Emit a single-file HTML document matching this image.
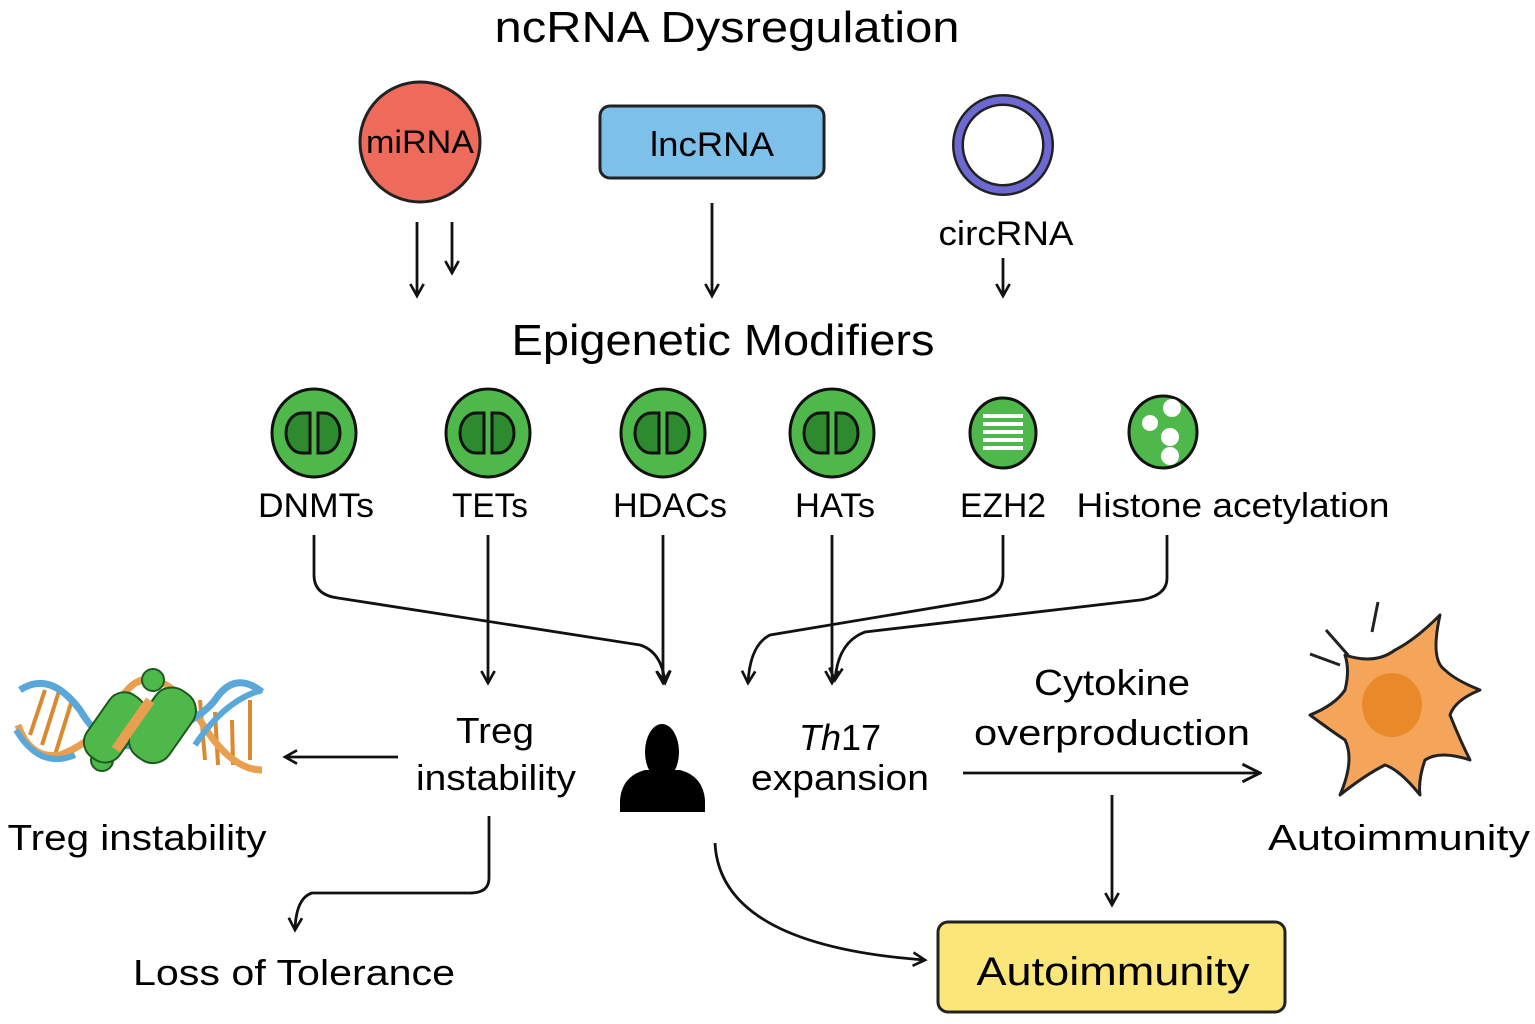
<!DOCTYPE html>
<html><head><meta charset="utf-8"><style>
html,body{margin:0;padding:0;background:#fff;}
svg{display:block;font-family:"Liberation Sans",sans-serif;}
</style></head><body>
<svg width="1535" height="1024" viewBox="0 0 1535 1024" xmlns="http://www.w3.org/2000/svg">
<defs>
<marker id="ah" viewBox="0 0 12 12" refX="10" refY="6" markerWidth="16" markerHeight="16" markerUnits="userSpaceOnUse" orient="auto">
<path d="M1,1 L10,6 L1,11" fill="none" stroke="#111" stroke-width="2"/>
</marker>
<marker id="ahb" viewBox="0 0 20 20" refX="18" refY="10" markerWidth="22" markerHeight="22" markerUnits="userSpaceOnUse" orient="auto">
<path d="M2,2 L18,10 L2,18" fill="none" stroke="#111" stroke-width="2.6"/>
</marker>
<g id="dcell">
<ellipse cx="0" cy="0" rx="42" ry="44" fill="#4fb84a" stroke="#111" stroke-width="3"/>
<path d="M-4,-20 L-12,-20 A16,20 0 0 0 -12,20 L-4,20 Z" fill="#2e8a2e" stroke="#111" stroke-width="3"/>
<path d="M4,-20 L10,-20 A16,20 0 0 1 10,20 L4,20 Z" fill="#2e8a2e" stroke="#111" stroke-width="3"/>
</g>
</defs>
<text x="727" y="42" font-size="44" text-anchor="middle" textLength="465" lengthAdjust="spacingAndGlyphs">ncRNA Dysregulation</text>
<circle cx="420" cy="142" r="60" fill="#ee6b5b" stroke="#222" stroke-width="3"/>
<text x="420" y="153" font-size="32" text-anchor="middle" textLength="108" lengthAdjust="spacingAndGlyphs">miRNA</text>
<rect x="600" y="106" width="224" height="72" rx="10" fill="#7dc1ea" stroke="#222" stroke-width="3"/>
<text x="712" y="156" font-size="34" text-anchor="middle" textLength="124" lengthAdjust="spacingAndGlyphs">lncRNA</text>
<circle cx="1003" cy="145" r="45" fill="#fff" stroke="#222" stroke-width="12"/>
<circle cx="1003" cy="145" r="45" fill="none" stroke="#6c6ad2" stroke-width="7"/>
<text x="1006" y="245" font-size="34" text-anchor="middle" textLength="135" lengthAdjust="spacingAndGlyphs">circRNA</text>
<g stroke="#111" stroke-width="2.8" fill="none" marker-end="url(#ah)">
<line x1="417" y1="222" x2="417" y2="296"/>
<line x1="452" y1="222" x2="452" y2="273"/>
<line x1="712" y1="203" x2="712" y2="296"/>
<line x1="1003" y1="258" x2="1003" y2="296"/>
</g>
<text x="723" y="355" font-size="44" text-anchor="middle" textLength="423" lengthAdjust="spacingAndGlyphs">Epigenetic Modifiers</text>
<use href="#dcell" x="314" y="433"/>
<use href="#dcell" x="488" y="433"/>
<use href="#dcell" x="663" y="433"/>
<use href="#dcell" x="832" y="433"/>
<ellipse cx="1003" cy="433" rx="33" ry="35" fill="#4fb84a" stroke="#111" stroke-width="3"/>
<g fill="#fff"><rect x="983" y="414" width="40" height="4"/><rect x="983" y="422" width="40" height="4"/><rect x="983" y="430" width="40" height="4"/><rect x="983" y="438" width="40" height="4"/><rect x="983" y="446" width="40" height="4"/></g>
<ellipse cx="1163" cy="432" rx="34" ry="36" fill="#4fb84a" stroke="#111" stroke-width="3"/>
<g fill="#fff"><circle cx="1172" cy="408" r="9"/><circle cx="1150" cy="423" r="8"/><circle cx="1170" cy="437" r="9"/><circle cx="1170" cy="456" r="9"/></g>
<g font-size="34" text-anchor="middle">
<text x="316" y="517" textLength="116" lengthAdjust="spacingAndGlyphs">DNMTs</text>
<text x="490" y="517" textLength="76" lengthAdjust="spacingAndGlyphs">TETs</text>
<text x="670" y="517" textLength="114" lengthAdjust="spacingAndGlyphs">HDACs</text>
<text x="835" y="517" textLength="80" lengthAdjust="spacingAndGlyphs">HATs</text>
<text x="1003" y="517" textLength="86" lengthAdjust="spacingAndGlyphs">EZH2</text>
<text x="1233" y="517" textLength="313" lengthAdjust="spacingAndGlyphs">Histone acetylation</text>
</g>
<g stroke="#111" stroke-width="2.8" fill="none" marker-end="url(#ah)">
<path d="M314,535 L314,575 Q314,595 338,598 L640,645 Q662,652 665,683"/>
<line x1="488" y1="535" x2="488" y2="683"/>
<line x1="663" y1="535" x2="663" y2="683"/>
<line x1="832" y1="535" x2="832" y2="683"/>
<path d="M1003,535 L1003,575 Q1003,595 980,600 L770,635 Q750,645 748,683"/>
<path d="M1167,535 L1167,578 Q1167,596 1140,600 L865,632 Q838,642 835,680"/>
<line x1="398" y1="757" x2="285" y2="757"/>
<path d="M489,816 L489,878 Q489,893 470,893 L312,893 Q296,898 295,930"/>
<path d="M715,843 Q720,945 925,960"/>
<line x1="1112" y1="795" x2="1112" y2="905"/>
</g>
<line x1="963" y1="773" x2="1260" y2="773" stroke="#111" stroke-width="2.8" marker-end="url(#ahb)"/>
<g font-size="36" text-anchor="middle">
<text x="495" y="743" textLength="78" lengthAdjust="spacingAndGlyphs">Treg</text>
<text x="496" y="790" textLength="160" lengthAdjust="spacingAndGlyphs">instability</text>
<text x="840" y="750"><tspan font-style="italic">Th</tspan>17</text>
<text x="840" y="790" textLength="178" lengthAdjust="spacingAndGlyphs">expansion</text>
<text x="1112" y="695" textLength="156" lengthAdjust="spacingAndGlyphs">Cytokine</text>
<text x="1112" y="745" textLength="276" lengthAdjust="spacingAndGlyphs">overproduction</text>
<text x="1399" y="850" textLength="262" lengthAdjust="spacingAndGlyphs">Autoimmunity</text>
<text x="137" y="850" textLength="259" lengthAdjust="spacingAndGlyphs">Treg instability</text>
<text x="294" y="985" textLength="322" lengthAdjust="spacingAndGlyphs">Loss of Tolerance</text>
</g>
<ellipse cx="662" cy="752" rx="17" ry="28" fill="#000"/>
<path d="M620,812 L620,800 Q622,776 645,770 L680,770 Q703,776 705,800 L705,812 Z" fill="#000"/>
<path d="M1440,615 Q1430,660 1445,670 Q1455,680 1480,690 Q1455,700 1450,715 Q1460,740 1470,760 Q1440,750 1425,760 Q1418,780 1420,795 Q1400,770 1385,765 Q1365,775 1340,795 Q1355,760 1345,740 Q1330,730 1310,715 Q1335,705 1345,690 Q1350,670 1345,655 Q1375,665 1395,650 Q1415,640 1440,615 Z" fill="#f4a55a" stroke="#222" stroke-width="3" stroke-linejoin="round"/>
<ellipse cx="1392" cy="705" rx="30" ry="32" fill="#e88a2a"/>
<g stroke="#222" stroke-width="3"><line x1="1310" y1="654" x2="1340" y2="665"/><line x1="1326" y1="630" x2="1348" y2="655"/><line x1="1378" y1="602" x2="1372" y2="632"/></g>
<g stroke="#d98a2e" stroke-width="4">
<line x1="30" y1="735" x2="45" y2="690"/><line x1="42" y1="745" x2="60" y2="688"/><line x1="55" y1="755" x2="72" y2="700"/><line x1="200" y1="700" x2="205" y2="760"/><line x1="215" y1="712" x2="218" y2="765"/><line x1="232" y1="720" x2="233" y2="765"/><line x1="250" y1="700" x2="250" y2="760"/>
</g>
<path d="M18,725 Q30,760 60,755 Q100,740 120,700 Q150,650 200,720 Q230,770 262,770" fill="none" stroke="#e8a050" stroke-width="7"/>
<path d="M20,690 Q50,670 80,710 Q110,760 150,740 Q200,720 215,700 Q235,670 262,692" fill="none" stroke="#5aa8da" stroke-width="7"/>
<path d="M16,730 Q40,770 75,755 M195,745 Q225,700 262,690" fill="none" stroke="#5aa8da" stroke-width="6"/>
<g fill="#4fb84a" stroke="#1e5a1e" stroke-width="2">
<circle cx="153" cy="680" r="11"/><circle cx="102" cy="760" r="11"/>
<rect x="95" y="690" width="40" height="75" rx="18" transform="rotate(35 115 727)"/>
<rect x="140" y="685" width="45" height="80" rx="20" transform="rotate(35 162 725)"/>
</g>
<rect x="128" y="695" width="10" height="60" fill="#e8a050" transform="rotate(35 133 725)"/>
<rect x="938" y="922" width="347" height="90" rx="10" fill="#fbe67a" stroke="#222" stroke-width="3"/>
<text x="1113" y="985" font-size="40" text-anchor="middle" textLength="273" lengthAdjust="spacingAndGlyphs">Autoimmunity</text>
</svg>
</body></html>
